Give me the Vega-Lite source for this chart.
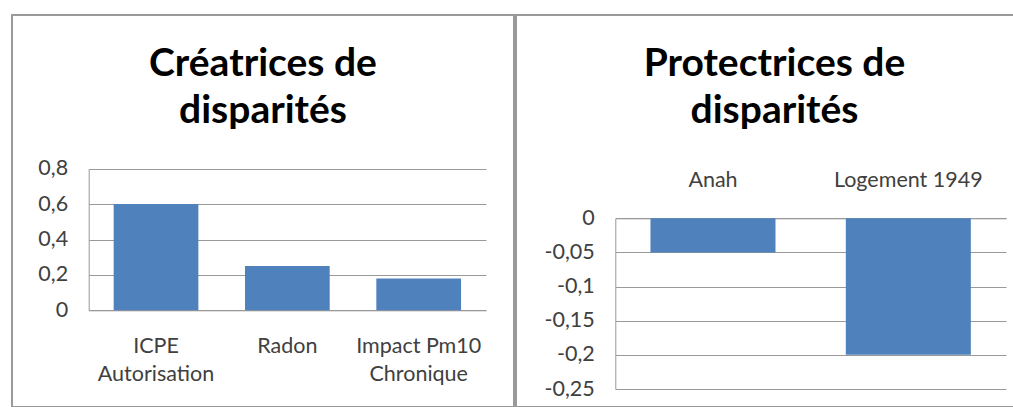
{
  "$schema": "https://vega.github.io/schema/vega-lite/v6.json",
  "padding": {"left": 11, "top": 14, "right": 0, "bottom": 0},
  "spacing": 0,
  "background": "white",
  "datasets": {
    "createurs": [
      {"indicateur": "ICPE Autorisation", "valeur": 0.6},
      {"indicateur": "Radon", "valeur": 0.25},
      {"indicateur": "Impact Pm10 Chronique", "valeur": 0.18}
    ],
    "protecteurs": [
      {"indicateur": "Anah", "valeur": -0.05},
      {"indicateur": "Logement 1949", "valeur": -0.2}
    ]
  },
  "config": {
    "view": {"stroke": "#9a9a9a", "strokeWidth": 2},
    "axis": {
      "ticks": false,
      "labelFont": "Lato",
      "labelFontSize": 21.5,
      "labelColor": "#404040",
      "domainColor": "#999999",
      "gridColor": "#999999",
      "gridWidth": 1
    },
    "title": {
      "font": "Lato",
      "fontSize": 39,
      "fontWeight": "bold",
      "color": "#000000",
      "lineHeight": 47,
      "anchor": "middle",
      "frame": "group",
      "offset": -116
    }
  },
  "hconcat": [
    {
      "width": 502,
      "height": 392,
      "data": {"name": "createurs"},
      "title": {"text": ["Créatrices de", "disparités"]},
      "mark": {"type": "bar", "color": "#4F81BD"},
      "encoding": {
        "x": {
          "field": "indicateur",
          "type": "nominal",
          "sort": null,
          "title": null,
          "scale": {"range": [76.7, 474], "paddingInner": 0.355, "paddingOuter": 0.19},
          "axis": {
            "orient": "bottom",
            "offset": -96.7,
            "labelAngle": 0,
            "labelPadding": 25,
            "labelBaseline": "top",
            "labelLineHeight": 28,
            "grid": false,
            "labelExpr": "datum.value == 'ICPE Autorisation' ? ['ICPE', 'Autorisation'] : datum.value == 'Impact Pm10 Chronique' ? ['Impact Pm10', 'Chronique'] : datum.value"
          }
        },
        "y": {
          "field": "valeur",
          "type": "quantitative",
          "title": null,
          "scale": {"domain": [0, 0.8], "range": [295.3, 153.7], "nice": false, "zero": true},
          "axis": {
            "offset": -76.7,
            "grid": true,
            "values": [0, 0.2, 0.4, 0.6, 0.8],
            "labelPadding": 21,
            "labelExpr": "replace(toString(datum.value), '.', ',')"
          }
        }
      }
    },
    {
      "width": 499,
      "height": 392,
      "data": {"name": "protecteurs"},
      "title": {"text": ["Protectrices de", "disparités"], "dx": 9},
      "mark": {"type": "bar", "color": "#4F81BD"},
      "encoding": {
        "x": {
          "field": "indicateur",
          "type": "nominal",
          "sort": null,
          "title": null,
          "scale": {"range": [99.3, 490], "paddingInner": 0.36, "paddingOuter": 0.18},
          "axis": {
            "orient": "top",
            "offset": -203.3,
            "labelAngle": 0,
            "labelPadding": 32,
            "labelBaseline": "alphabetic",
            "grid": false
          }
        },
        "y": {
          "field": "valeur",
          "type": "quantitative",
          "title": null,
          "scale": {"domain": [-0.25, 0], "range": [374, 203.3], "nice": false, "zero": false},
          "axis": {
            "offset": -99.3,
            "grid": true,
            "values": [0, -0.05, -0.1, -0.15, -0.2, -0.25],
            "labelPadding": 21,
            "labelExpr": "replace(toString(datum.value), '.', ',')"
          }
        }
      }
    }
  ]
}
